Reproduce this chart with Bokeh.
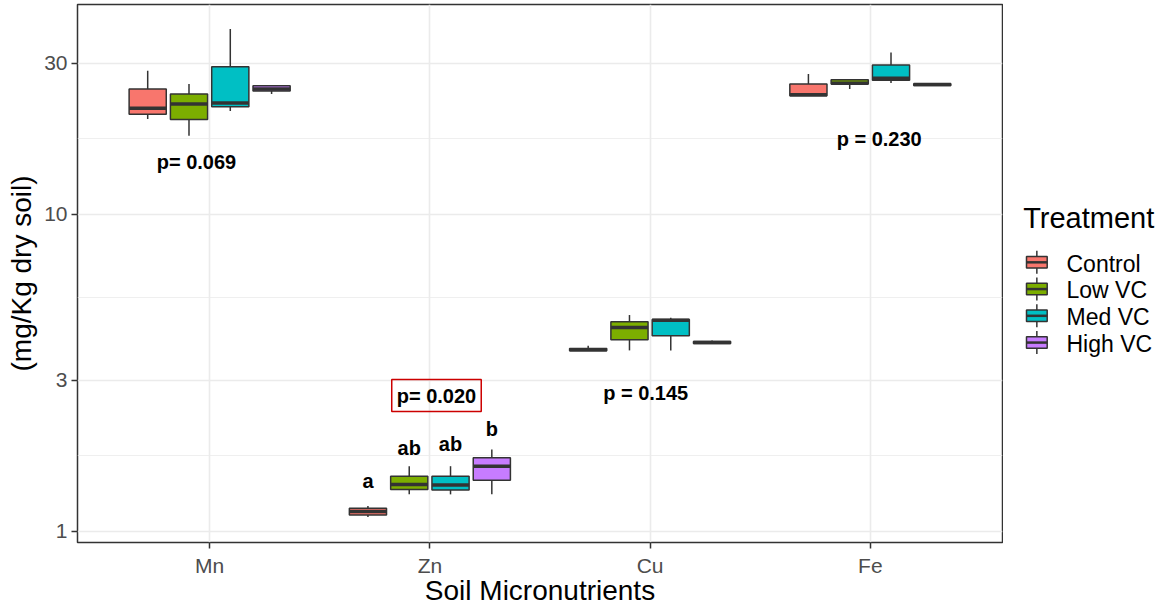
import math
from bokeh.plotting import figure
from bokeh.layouts import row
from bokeh.models import ColumnDataSource, Range1d, FixedTicker, Label
from bokeh.core.properties import value
from bokeh.embed import file_html
from bokeh.resources import INLINE

# ---------------- data ----------------
minerals = ["Mn", "Zn", "Cu", "Fe"]
treatments = ["Control", "Low VC", "Med VC", "High VC"]
colors = ["#F8766D", "#7CAE00", "#00BFC4", "#C77CFF"]

# box statistics (mg/Kg), order: Mn, Zn, Cu, Fe
control_lower = [20.0, 1.109, 3.71, 23.65]
control_q1 = [20.7, 1.125, 3.71, 23.65]
control_med = [21.6, 1.153, 3.74, 23.85]
control_q3 = [24.85, 1.181, 3.77, 25.75]
control_upper = [28.4, 1.201, 3.85, 27.7]

lowvc_lower = [17.7, 1.307, 3.72, 24.85]
lowvc_q1 = [19.9, 1.355, 4.02, 25.75]
lowvc_med = [22.3, 1.405, 4.39, 25.9]
lowvc_q3 = [23.95, 1.492, 4.585, 26.6]
lowvc_upper = [25.75, 1.604, 4.81, 26.6]

medvc_lower = [21.2, 1.307, 3.72, 25.95]
medvc_q1 = [21.85, 1.35, 4.135, 26.5]
medvc_med = [22.45, 1.40, 4.63, 26.85]
medvc_q3 = [29.2, 1.492, 4.66, 29.6]
medvc_upper = [38.4, 1.604, 4.72, 32.4]

highvc_lower = [23.95, 1.307, 3.91, 25.5]
highvc_q1 = [24.5, 1.447, 3.91, 25.5]
highvc_med = [24.85, 1.604, 3.94, 25.66]
highvc_q3 = [25.45, 1.705, 3.97, 25.8]
highvc_upper = [25.45, 1.811, 4.0, 25.9]

lowers = [control_lower, lowvc_lower, medvc_lower, highvc_lower]
q1s = [control_q1, lowvc_q1, medvc_q1, highvc_q1]
meds = [control_med, lowvc_med, medvc_med, highvc_med]
q3s = [control_q3, lowvc_q3, medvc_q3, highvc_q3]
uppers = [control_upper, lowvc_upper, medvc_upper, highvc_upper]

y_ticks = [1, 3, 10, 30]
p_texts = ["p= 0.069", "p= 0.020", "p = 0.145", "p = 0.230"]
zn_letters = ["a", "ab", "ab", "b"]

# ---------------- main figure ----------------
FONT = "Liberation Sans"
DODGE = 0.75 / 4
BOXW = DODGE * 0.9
EDGE = "#333333"

p = figure(width=1003, height=608, output_backend="svg", toolbar_location=None,
           x_range=Range1d(0.4, 4.6), y_range=Range1d(0.9213, 45.92),
           y_axis_type="log",
           min_border_left=77, min_border_right=1, min_border_top=4, min_border_bottom=65,
           x_axis_label="Soil Micronutrients", y_axis_label="(mg/Kg dry soil)")
p.background_fill_color = "white"
p.border_fill_color = "white"
p.outline_line_color = EDGE
p.outline_line_width = 1.5

p.xaxis.ticker = FixedTicker(ticks=[1, 2, 3, 4])
p.xaxis.major_label_overrides = {i + 1: m for i, m in enumerate(minerals)}
minor_y = [math.sqrt(y_ticks[i] * y_ticks[i + 1]) for i in range(len(y_ticks) - 1)]
p.yaxis.ticker = FixedTicker(ticks=y_ticks, minor_ticks=minor_y)
p.yaxis.major_label_overrides = {t: str(t) for t in y_ticks}

for ax in (p.xaxis, p.yaxis):
    ax.axis_line_color = None
    ax.major_tick_line_color = EDGE
    ax.major_tick_line_width = 1.5
    ax.major_tick_out = 6
    ax.major_tick_in = 0
    ax.minor_tick_line_color = None
    ax.major_label_text_font = FONT
    ax.major_label_text_font_size = "21px"
    ax.major_label_text_color = "#4D4D4D"
    ax.axis_label_text_font = FONT
    ax.axis_label_text_font_size = "28px"
    ax.axis_label_text_font_style = "normal"
    ax.axis_label_text_color = "black"
p.xaxis.major_label_standoff = 5
p.xaxis.axis_label_standoff = -5
p.yaxis.major_label_standoff = 4
p.yaxis.axis_label_standoff = 4

p.xgrid.grid_line_color = "#EBEBEB"
p.xgrid.grid_line_width = 1.6
p.ygrid.grid_line_color = "#EBEBEB"
p.ygrid.grid_line_width = 1.6
p.ygrid.minor_grid_line_color = "#EBEBEB"
p.ygrid.minor_grid_line_width = 0.8

for i, t in enumerate(treatments):
    xs = [j + 1 + (i - 1.5) * DODGE for j in range(len(minerals))]
    src = ColumnDataSource(dict(
        x=xs, xl=[x - BOXW / 2 for x in xs], xr=[x + BOXW / 2 for x in xs],
        lower=lowers[i], q1=q1s[i], med=meds[i], q3=q3s[i], upper=uppers[i]))
    p.segment(x0="x", y0="lower", x1="x", y1="q1", source=src, line_color=EDGE, line_width=1.5)
    p.segment(x0="x", y0="q3", x1="x", y1="upper", source=src, line_color=EDGE, line_width=1.5)
    p.vbar(x="x", width=BOXW, bottom="q1", top="q3", source=src,
           fill_color=colors[i], line_color=EDGE, line_width=1.5)
    p.segment(x0="xl", y0="med", x1="xr", y1="med", source=src,
              line_color=EDGE, line_width=3.5)

# p-value annotations
p_x = [0.94, 2.03, 2.98, 4.04]
p_y = [14.57, 2.679, 2.735, 17.25]
for k, txt in enumerate(p_texts):
    lab = Label(x=p_x[k], y=p_y[k], text=txt, text_font=FONT, text_font_size="20px",
                text_font_style="bold", text_align="center",
                text_baseline="middle" if k == 1 else "alphabetic", text_color="black")
    if k == 1:
        lab.border_line_color = "#CC0000"
        lab.border_line_width = 1.5
        lab.padding = 5
    p.add_layout(lab)

letter_y = [1.439, 1.824, 1.878, 2.108]
for i, let in enumerate(zn_letters):
    p.add_layout(Label(x=2 + (i - 1.5) * DODGE, y=letter_y[i], text=let, text_font=FONT,
                       text_font_size="20px", text_font_style="bold", text_align="center",
                       text_baseline="alphabetic", text_color="black"))

# ---------------- legend panel (pixel space; frame aligned with main frame) ----------------
LW = 161
FRAME_TOP, FRAME_BOTTOM = 4, 543
lf = figure(width=LW, height=608, output_backend="svg", toolbar_location=None,
            x_range=Range1d(0, LW), y_range=Range1d(FRAME_BOTTOM, FRAME_TOP),
            min_border=0)
lf.axis.visible = False
lf.grid.visible = False
lf.outline_line_color = None
lf.background_fill_color = "white"
lf.border_fill_color = "white"

TITLE_X, TITLE_BASE = 19.7, 218.0
KEY_L, KEY_R = 23.0, 43.7
FIRST_C, PITCH = 262.3, 26.8
centers = [FIRST_C + k * PITCH for k in range(len(treatments))]
kx = (KEY_L + KEY_R) / 2
ksrc = ColumnDataSource(dict(
    c=centers, top=[c - 5.8 for c in centers], bot=[c + 5.8 for c in centers],
    wt=[c - 11.5 for c in centers], wb=[c + 11.5 for c in centers],
    lab=treatments, col=colors, ly=[c + 1.2 for c in centers]))
lf.segment(x0=kx, y0="wt", x1=kx, y1="wb", source=ksrc, line_color=EDGE, line_width=1.5)
lf.quad(left=KEY_L, right=KEY_R, top="top", bottom="bot", source=ksrc,
        fill_color="col", line_color=EDGE, line_width=1.5)
lf.segment(x0=KEY_L, y0="c", x1=KEY_R, y1="c", source=ksrc, line_color=EDGE, line_width=2.5)
lf.text(x=63, y="ly", text="lab", source=ksrc, text_font=value(FONT),
        text_font_size="23px", text_color="black", text_baseline="alphabetic")
lf.text(x=[TITLE_X], y=[TITLE_BASE], text=["Treatment"], text_font=value(FONT),
        text_font_size="29px", text_color="black", text_baseline="alphabetic")

layout = row(p, lf)
open("out.html", "w").write(file_html(layout, INLINE))
